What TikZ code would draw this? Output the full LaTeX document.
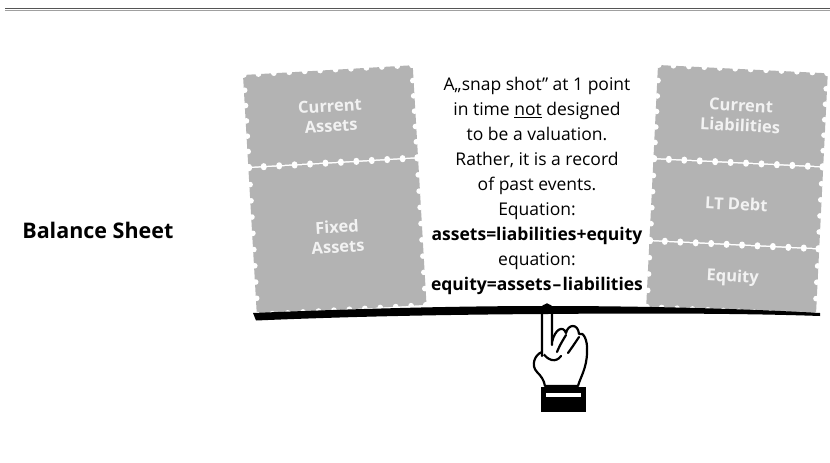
\documentclass[tikz,border=0pt]{standalone}
\usepackage{fontspec}
\setmainfont{Open Sans}
\definecolor{stampgray}{HTML}{B3B3B3}
\definecolor{labelwhite}{HTML}{F2F2F2}
\definecolor{rulegray}{HTML}{555555}
\definecolor{rulelight}{HTML}{A0A0A0}

% grey stamp with punched perforation holes along all four edges
% #1 width, #2 top, #3 bottom (local column coordinates)
\newcommand\stampface[3]{%
  \fill[stampgray] (0,#2) rectangle (#1,#3);
  \pgfmathtruncatemacro\nx{round(#1/15.5)}%
  \pgfmathtruncatemacro\ny{round((#3-#2)/15.5)}%
  \foreach \i in {0,...,\nx}{%
    \fill[white] ({\i*#1/\nx},#2) circle[radius=2.8pt];
    \fill[white] ({\i*#1/\nx},#3) circle[radius=2.8pt];}
  \foreach \j in {0,...,\ny}{%
    \fill[white] (0.8,{#2+\j*(#3-#2)/\ny}) circle[radius=2.8pt];
    \fill[white] ({#1-0.8},{#2+\j*(#3-#2)/\ny}) circle[radius=2.8pt];}
}

\begin{document}
\begin{tikzpicture}[x=1pt,y=-1pt,
  stamplabel/.style={text=labelwhite,font=\fontsize{16.5}{20}\selectfont\bfseries,
    align=center,transform shape},
  infotext/.style={align=center,font=\fontsize{17.5}{24.9}\selectfont},
  titletext/.style={font=\fontsize{21.5}{25}\selectfont\bfseries},
  handline/.style={line width=2.2pt,line join=round,line cap=round}]
\useasboundingbox (0,0) rectangle (830,463);

% header rule
\draw[rulegray,line width=1.6pt] (5,8.5) -- (830,8.5);
\draw[rulelight,line width=1pt] (5,10.2) -- (830,10.2);

% title
\node[titletext,anchor=base east] (title) at (177,238) {Balance Sheet};

% left column of stamps
\begin{scope}[shift={(243,75)},rotate=3.3]
  \stampface{170}{0}{92}
  \stampface{170}{93.5}{240}
  \node[stamplabel] (ca) at (85,46) {Current\\Assets};
  \node[stamplabel] (fa) at (85,167) {Fixed\\Assets};
\end{scope}

% right column of stamps
\begin{scope}[shift={(658,65)},rotate=-2.8]
  \stampface{170}{0}{93}
  \stampface{170}{94.5}{175}
  \stampface{170}{176.5}{242}
  \node[stamplabel] (cl) at (85,46.5) {Current\\Liabilities};
  \node[stamplabel] (lt) at (85,135) {LT Debt};
  \node[stamplabel] (eq) at (85,209) {Equity};
\end{scope}

% explanation between the columns
\node[infotext] (note) at (537,186) {A„snap shot” at 1 point\\
  in time \underline{not} designed\\
  to be a valuation.\\
  Rather, it is a record\\
  of past events.\\
  Equation:\\
  \textbf{assets=liabilities+equity}\\
  equation:\\
  \textbf{equity=assets\kern1.2pt–\kern1.2pt liabilities}};

% pointing hand
\coordinate (tip) at (547,306);
\filldraw[handline,fill=white] (542,352)
  .. controls (534,355) and (531,366) .. (537,372)
  .. controls (541,376) and (544,380) .. (545,386) -- (578,386)
  .. controls (580,378) and (587,368) .. (587,352)
  .. controls (588,340) and (583,331) .. (579,334)
  .. controls (578,323) and (568,324) .. (566,333)
  .. controls (563,325) and (555,329) .. (552,342) -- cycle;
\draw[handline] (557,352) .. controls (560,345) .. (566,335);
\draw[handline] (568,353) .. controls (573,346) .. (579,337);
\draw[handline] (542,352) .. controls (548,361) and (556,363) .. (561,356);
\fill[white] (542,356) -- (542,310) .. controls (542,303) and (552,303) .. (552,310) -- (552,346) -- cycle;
\draw[handline] (542,356) -- (542,310) .. controls (542,303) and (552,303) .. (552,310) -- (552,345);
\fill[black] (541,387) rectangle (586,412);
\fill[white] (546,392.5) rectangle (581,397);

% curved beam resting on the fingertip
\fill[black] (253,313) .. controls (350,309) and (450,306) .. (tip)
  .. controls (650,306) and (750,309) .. (820,313) -- (820,316)
  .. controls (750,313.5) and (650,313) .. (548,314)
  .. controls (450,314.5) and (350,316.5) .. (256,320.5) -- cycle;
\fill[black] (tip) circle[radius=2.6pt];
\end{tikzpicture}
\end{document}
